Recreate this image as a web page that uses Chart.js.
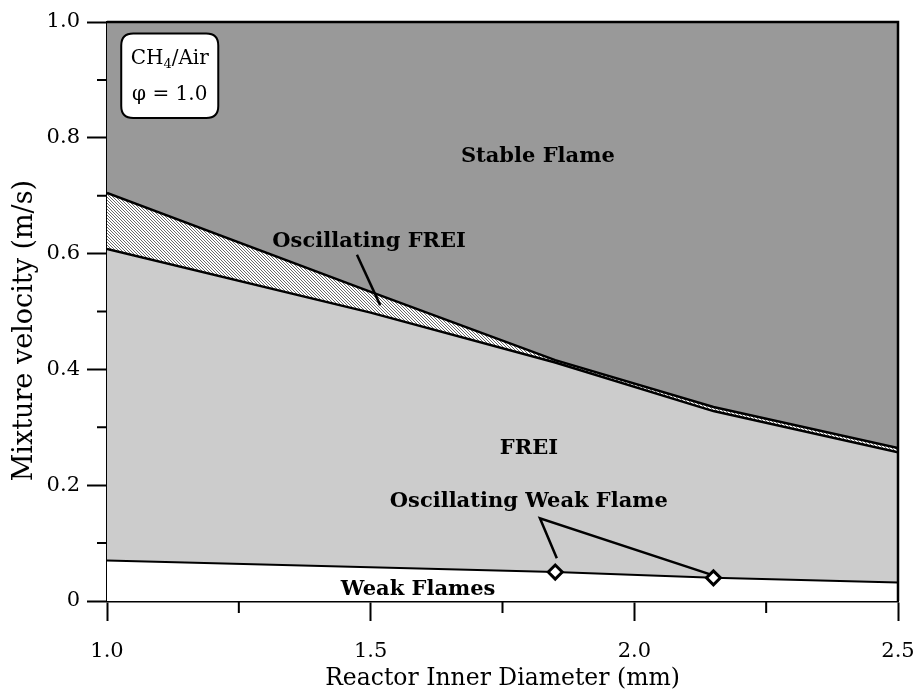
<!DOCTYPE html>
<html>
<head>
<meta charset="utf-8">
<script src="https://cdn.jsdelivr.net/npm/chart.js@4/dist/chart.umd.min.js"></script>
<style>
  html, body { margin: 0; padding: 0; background: #fff; }
  #wrap { width: 915px; height: 693px; }
</style>
</head>
<body>
<div id="wrap"><canvas id="regimeChart"></canvas></div>
<script>
// Reactor inner diameters (mm) at which the regime boundaries were mapped
const diameters = [1.0, 1.5, 1.85, 2.15, 2.5];
// upper edge of the oscillating FREI band (stable flame onset), m/s
const stableLimit = [0.705, 0.534, 0.416, 0.335, 0.264];
// upper edge of the FREI regime, m/s
const freiLimit = [0.608, 0.498, 0.412, 0.328, 0.257];
// weak flame / FREI boundary
const weakDiameters = [1.0, 1.85, 2.15, 2.5];
const weakLimit = [0.07, 0.05, 0.04, 0.032];
// indices on the weak boundary where the weak flame oscillates
const oscWeakIdx = [1, 2];

const xTicks = [1.0, 1.5, 2.0, 2.5];
const xMinor = [1.25, 1.75, 2.25];
const yTicks = [0, 0.2, 0.4, 0.6, 0.8, 1.0];
const yMinor = [0.1, 0.3, 0.5, 0.7, 0.9];

// regime names: text, diameter, velocity
const regionLabels = [
  ['Stable Flame', 1.817, 0.767],
  ['FREI', 1.80, 0.263],
  ['Oscillating FREI', 1.497, 0.620],
  ['Oscillating Weak Flame', 1.80, 0.172],
  ['Weak Flames', 1.59, 0.020]
];
// leader lines from labels to regions
const leaderFrei = [[1.474, 0.598], [1.518, 0.511]];
const leaderWeak = [[1.853, 0.074], [1.821, 0.143], [2.144, 0.046]];

// mixture box corners (diameter, velocity)
const mixBox = [1.027, 0.980, 1.211, 0.834];

const yTitle = 'Mixture velocity (m/s)';
const SERIF = '"DejaVu Serif", serif';
const tickFont = { family: SERIF, size: 21 };

const pts = (xs, ys) => xs.map((x, i) => ({ x: x, y: ys[i] }));
const seg = arr => arr.map(p => ({ x: p[0], y: p[1] }));

function hatchPattern() {
  const c = document.createElement('canvas');
  c.width = 3; c.height = 3;
  const g = c.getContext('2d');
  g.fillStyle = '#ffffff';
  g.fillRect(0, 0, 3, 3);
  g.strokeStyle = '#5a5a5a';
  g.lineWidth = 0.9;
  g.beginPath();
  g.moveTo(-1, -1); g.lineTo(4, 4);
  g.stroke();
  return g.createPattern(c, 'repeat');
}

// dark grey background for the stable flame regime
const areaBg = {
  id: 'areaBg',
  beforeDatasetsDraw(chart) {
    const { ctx, chartArea: a } = chart;
    ctx.save();
    ctx.fillStyle = '#999999';
    ctx.fillRect(a.left, a.top, a.right - a.left, a.bottom - a.top);
    ctx.restore();
  }
};

function roundRect(ctx, x, y, w, h, r) {
  ctx.beginPath();
  ctx.moveTo(x + r, y);
  ctx.lineTo(x + w - r, y);
  ctx.quadraticCurveTo(x + w, y, x + w, y + r);
  ctx.lineTo(x + w, y + h - r);
  ctx.quadraticCurveTo(x + w, y + h, x + w - r, y + h);
  ctx.lineTo(x + r, y + h);
  ctx.quadraticCurveTo(x, y + h, x, y + h - r);
  ctx.lineTo(x, y + r);
  ctx.quadraticCurveTo(x, y, x + r, y);
  ctx.closePath();
}

// frame, minor ticks, y title, regime names and the mixture box
const overlay = {
  id: 'overlay',
  afterDraw(chart) {
    const { ctx, chartArea: a, scales: { x, y } } = chart;
    ctx.save();
    ctx.strokeStyle = '#000';
    ctx.lineWidth = 2.5;
    ctx.beginPath();
    ctx.moveTo(a.left, a.top); ctx.lineTo(a.right, a.top); ctx.lineTo(a.right, a.bottom);
    ctx.stroke();

    ctx.lineWidth = 2;
    ctx.beginPath();
    xMinor.forEach(v => {
      const px = x.getPixelForValue(v);
      ctx.moveTo(px, a.bottom); ctx.lineTo(px, a.bottom + 12);
    });
    yMinor.forEach(v => {
      const py = y.getPixelForValue(v);
      ctx.moveTo(a.left, py); ctx.lineTo(a.left - 10, py);
    });
    ctx.stroke();

    ctx.fillStyle = '#000';
    ctx.textAlign = 'center';
    ctx.textBaseline = 'middle';

    // y axis title sits a little below the middle of the axis
    ctx.save();
    ctx.translate(25, y.getPixelForValue(0.467));
    ctx.rotate(-Math.PI / 2);
    ctx.font = '27px ' + SERIF;
    ctx.fillText(yTitle, 0, 0);
    ctx.restore();

    ctx.font = 'bold 21px ' + SERIF;
    regionLabels.forEach(([t, vx, vy]) => {
      ctx.fillText(t, x.getPixelForValue(vx), y.getPixelForValue(vy));
    });

    const bx = x.getPixelForValue(mixBox[0]), by = y.getPixelForValue(mixBox[1]);
    const bw = x.getPixelForValue(mixBox[2]) - bx, bh = y.getPixelForValue(mixBox[3]) - by;
    roundRect(ctx, bx, by, bw, bh, 12);
    ctx.fillStyle = '#fff';
    ctx.fill();
    ctx.lineWidth = 2;
    ctx.stroke();

    ctx.fillStyle = '#000';
    const cx = bx + bw / 2;
    ctx.font = '20px ' + SERIF;
    const w1 = ctx.measureText('CH').width;
    ctx.font = '13px ' + SERIF;
    const w2 = ctx.measureText('4').width;
    ctx.font = '20px ' + SERIF;
    const w3 = ctx.measureText('/Air').width;
    let sx = cx - (w1 + w2 + w3) / 2;
    const l1 = by + bh * 0.3;
    ctx.textAlign = 'left';
    ctx.fillText('CH', sx, l1);
    ctx.font = '13px ' + SERIF;
    ctx.fillText('4', sx + w1, l1 + 6);
    ctx.font = '20px ' + SERIF;
    ctx.fillText('/Air', sx + w1 + w2, l1);
    ctx.textAlign = 'center';
    ctx.fillText('\u03C6 = 1.0', cx, by + bh * 0.72);
    ctx.restore();
  }
};

const boundaryLine = { borderColor: '#000', borderWidth: 2.5, pointRadius: 0, tension: 0 };

new Chart(document.getElementById('regimeChart'), {
  type: 'line',
  data: {
    datasets: [
      Object.assign({
        label: 'Stable flame limit',
        data: pts(diameters, stableLimit),
        fill: 'origin',
        backgroundColor: hatchPattern(),
        order: 4
      }, boundaryLine),
      Object.assign({
        label: 'FREI limit',
        data: pts(diameters, freiLimit),
        fill: 'origin',
        backgroundColor: '#cccccc',
        order: 3
      }, boundaryLine),
      {
        label: 'Weak flame limit',
        data: pts(weakDiameters, weakLimit),
        borderColor: '#000',
        borderWidth: 2,
        fill: 'origin',
        backgroundColor: '#ffffff',
        pointStyle: 'rectRot',
        pointRadius: c => oscWeakIdx.includes(c.dataIndex) ? 7 : 0,
        pointBackgroundColor: '#fff',
        pointBorderColor: '#000',
        pointBorderWidth: 3,
        order: 1
      },
      {
        label: 'leader FREI',
        data: seg(leaderFrei),
        borderColor: '#000', borderWidth: 2.5, pointRadius: 0, fill: false, order: 0
      },
      {
        label: 'leader weak',
        data: seg(leaderWeak),
        borderColor: '#000', borderWidth: 2.5, pointRadius: 0, fill: false, order: 2
      }
    ]
  },
  options: {
    responsive: true,
    maintainAspectRatio: false,
    animation: false,
    layout: { padding: { top: 22, right: 17, left: 0, bottom: 0 } },
    plugins: { legend: { display: false }, tooltip: { enabled: false } },
    scales: {
      x: {
        type: 'linear', min: 1.0, max: 2.5,
        afterBuildTicks: s => { s.ticks = xTicks.map(v => ({ value: v })); },
        // the end labels may overhang the plot; keep the plot edges fixed
        afterFit: s => { s.height = 92; s.paddingLeft = 0; s.paddingRight = 0; },
        ticks: { font: tickFont, color: '#000', padding: 18, maxRotation: 0, autoSkip: false,
                 callback: v => v.toFixed(1) },
        grid: { drawOnChartArea: false, tickLength: 20, tickWidth: 2, tickColor: '#000' },
        border: { color: '#000', width: 2.5 },
        title: { display: true, text: 'Reactor Inner Diameter (mm)', color: '#000',
                 font: { family: SERIF, size: 23.5 }, padding: { top: 0, bottom: 0 } }
      },
      y: {
        type: 'linear', min: 0, max: 1.0,
        afterBuildTicks: s => { s.ticks = yTicks.map(v => ({ value: v })); },
        afterFit: s => { s.width = 107; },
        ticks: { font: tickFont, color: '#000', padding: 7,
                 callback: v => v === 0 ? '0' : v.toFixed(1) },
        grid: { drawOnChartArea: false, tickLength: 20, tickWidth: 2, tickColor: '#000' },
        border: { color: '#000', width: 2.5 },
        title: { display: false }
      }
    }
  },
  plugins: [areaBg, overlay]
});
</script>
</body>
</html>
